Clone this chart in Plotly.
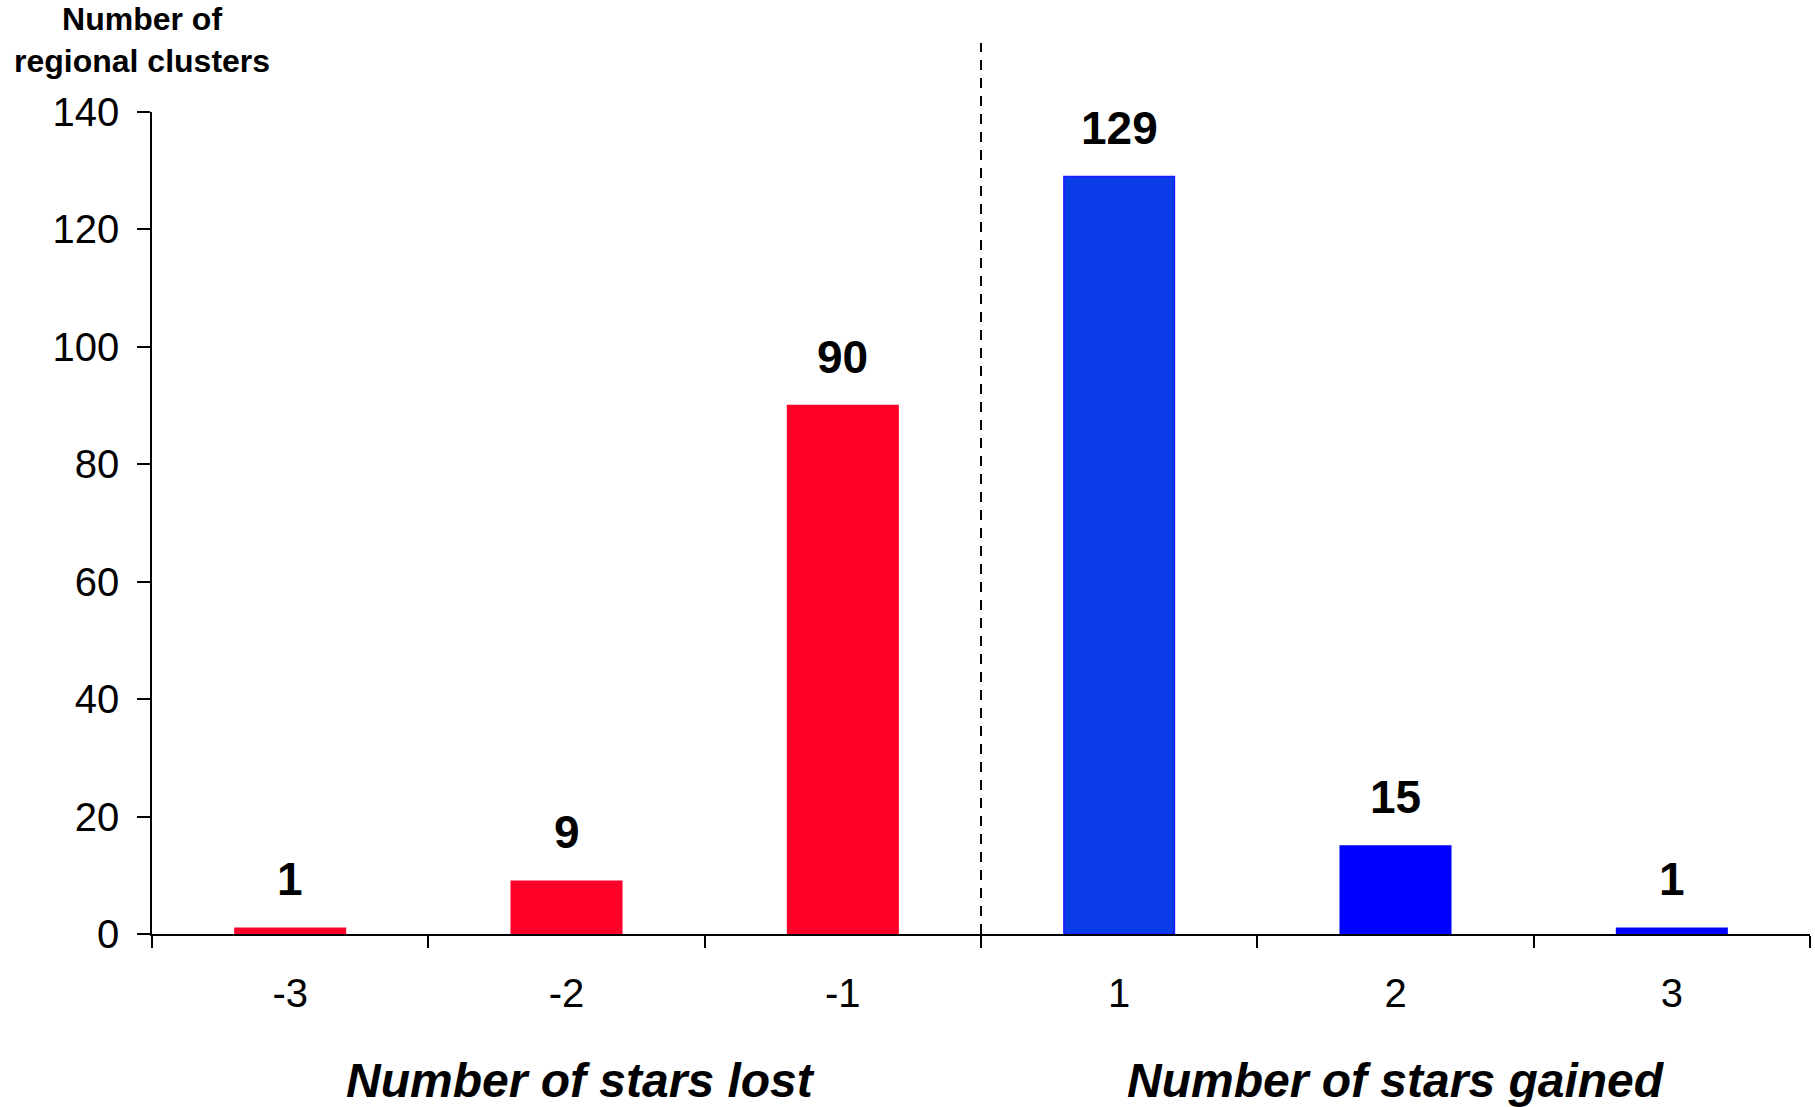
import plotly.graph_objects as go

# Change in star rating per regional cluster
star_change = ["-3", "-2", "-1", "1", "2", "3"]
cluster_count = [1, 9, 90, 129, 15, 1]
lost_title = "Number of stars lost"
gained_title = "Number of stars gained"
y_title = "Number of regional clusters"

bar_fill = ["#FF0028", "#FF0028", "#FF0028", "#0A3CE8", "#0000FF", "#0000FF"]
bar_edge = ["#FF0028", "#FF0028", "#FF0028", "#1A1AFF", "#0000FF", "#0000FF"]

FONT = "Arial, Liberation Sans, sans-serif"

fig = go.Figure()
fig.add_trace(go.Bar(
    x=star_change,
    y=cluster_count,
    width=0.4,
    marker=dict(color=bar_fill, line=dict(color=bar_edge, width=1.5)),
    hoverinfo="x+y",
))

annotations = []
# value labels above each bar
for i, v in enumerate(cluster_count):
    annotations.append(dict(
        x=i, y=v, xref="x", yref="y",
        text=f"<b>{v}</b>", showarrow=False,
        yanchor="bottom", yshift=21,
        font=dict(family=FONT, size=46, color="black"),
    ))

# group titles under the axis
annotations.append(dict(
    x=1.05, y=-0.178, xref="x", yref="paper",
    text=f"<b><i>{lost_title}</i></b>", showarrow=False,
    xanchor="center", yanchor="middle",
    font=dict(family=FONT, size=48, color="black"),
))
annotations.append(dict(
    x=4, y=-0.178, xref="x", yref="paper",
    text=f"<b><i>{gained_title}</i></b>", showarrow=False,
    xanchor="center", yanchor="middle",
    font=dict(family=FONT, size=48, color="black"),
))

# y-axis title above the axis
annotations.append(dict(
    x=-0.006, y=1.088, xref="paper", yref="paper",
    text="<b>Number of<br>regional clusters</b>", showarrow=False,
    xanchor="center", yanchor="middle", align="center",
    font=dict(family=FONT, size=32, color="black"),
))

fig.update_layout(
    width=1815, height=1107,
    margin=dict(l=152, r=5, t=112, b=173),
    paper_bgcolor="white", plot_bgcolor="white",
    showlegend=False,
    bargap=0.6,
    annotations=annotations,
    shapes=[dict(
        type="line", xref="x", yref="paper",
        x0=2.5, x1=2.5, y0=0, y1=1.084,
        line=dict(color="black", width=2, dash="10px,8px"),
    )],
    font=dict(family=FONT, color="black"),
)

fig.update_xaxes(
    type="category",
    range=[-0.5, 5.5],
    showline=True, linecolor="black", linewidth=2,
    ticks="outside", tickson="boundaries", ticklen=12, tickwidth=1.5, tickcolor="black",
    tickfont=dict(family=FONT, size=40, color="black"),
    ticklabelstandoff=23,
    showgrid=False, zeroline=False,
)
fig.update_yaxes(
    range=[0, 140],
    tickvals=[0, 20, 40, 60, 80, 100, 120, 140],
    showline=True, linecolor="black", linewidth=1.5,
    ticks="outside", ticklen=13, tickwidth=1.5, tickcolor="black",
    tickfont=dict(family=FONT, size=40, color="black"),
    ticklabelstandoff=10,
    showgrid=False, zeroline=False,
)

fig.write_html("out.html")
